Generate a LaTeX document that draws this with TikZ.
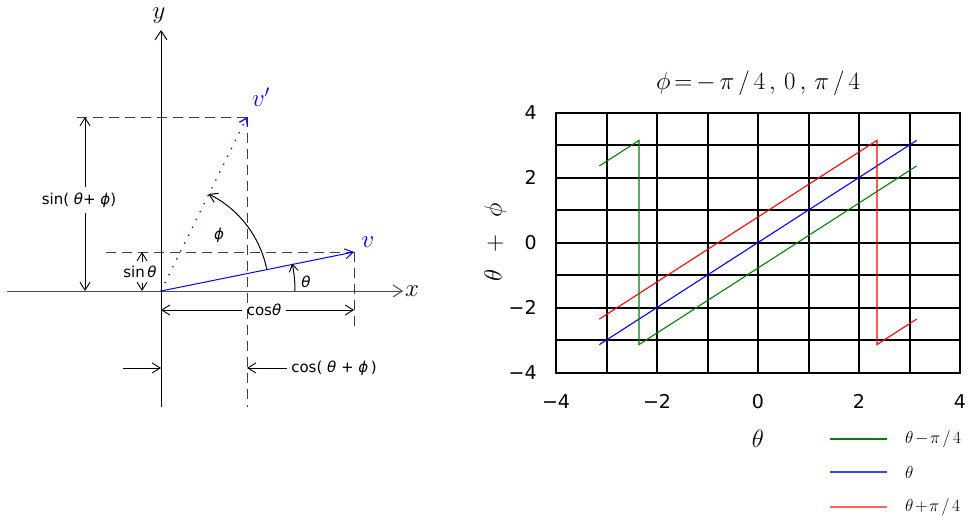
\documentclass[tikz,border=0pt]{standalone}
\usepackage{fontspec}
\setsansfont{DejaVu Sans}
\usetikzlibrary{arrows.meta}
\definecolor{pgreen}{RGB}{0,128,0}
\newcommand{\gth}{{\itshape θ}}
\newcommand{\gph}{{\itshape ϕ}}
\begin{document}
\begin{tikzpicture}[x=1pt,y=-1pt,
  axis/.style={line width=1pt, -{Straight Barb[length=9pt,width=12pt]}},
  dim/.style={line width=0.9pt, -{Straight Barb[length=8pt,width=10pt]}},
  guide/.style={dash pattern=on 10pt off 6pt, line width=1pt, black!75},
  lab/.style={font=\sffamily\fontsize{15}{17}\selectfont, inner sep=1pt},
  tick/.style={font=\sffamily\fontsize{19}{22}\selectfont, inner sep=0pt},
  gridline/.style={line width=2pt},
  leg/.style={font=\fontsize{16}{18}\selectfont, anchor=west, inner sep=0pt},
]
\useasboundingbox (0,0) rectangle (967,519);
% ---------------- left diagram ----------------
\coordinate (O) at (161,291);
\coordinate (V) at (354,252);
\coordinate (Vp) at (247,117);
\coordinate (xl) at (7,291);
\coordinate (xr) at (403,291);
\coordinate (yb) at (161,407);
\coordinate (yt) at (161,30);
\draw[axis, black!70] (xl) -- (xr);
\draw[axis] (yb) -- (yt);
\node[font=\fontsize{25}{27}\selectfont] (xlab) at (412,291) {$x$};
\node[font=\fontsize{23}{25}\selectfont] (ylab) at (159,16) {$y$};
% dashed guides
\coordinate (d1) at (77,117);
\coordinate (d2) at (106,252);
\coordinate (d3) at (247,407);
\coordinate (d4) at (354,327);
\draw[guide] (d1) -- (Vp);
\draw[guide] (d2) -- (V);
\draw[guide] (Vp) -- (d3);
\draw[guide] (V) -- (d4);
% vectors
\draw[blue, line width=1pt, -{Straight Barb[length=8pt,width=10pt]}] (O) -- (V);
\draw[blue, line width=1.3pt, dash pattern=on 1.3pt off 7.5pt, -{Straight Barb[length=7pt,width=9pt]}] (O) -- (Vp);
\node[blue, font=\fontsize{25}{27}\selectfont] (vlab) at (368,242) {$v$};
\node[blue, font=\fontsize{25}{27}\selectfont] (vplab) at (261,97) {$v'$};
% angle arcs
\draw[line width=1pt, -{Straight Barb[length=8pt,width=10pt]}]
  ([shift={(11.4:108pt)}]O) arc[start angle=11.4, end angle=64, radius=108pt];
\draw[line width=1pt, -{Straight Barb[length=7pt,width=9pt]}]
  ([shift={(0:134pt)}]O) arc[start angle=0, end angle=11.8, radius=134pt];
\node[lab] (philab) at (219,235) {\gph};
\node[lab] (thlab) at (306,282) {\gth};
% sin(theta+phi)
\coordinate (s1t) at (85,117);
\coordinate (s1b) at (85,291);
\node[lab, inner sep=5pt] (s1) at (79,200) {sin( \gth+ \gph)};
\draw[dim] (s1.north -| s1t) -- (s1t);
\draw[dim] (s1.south -| s1b) -- (s1b);
% sin theta
\node[lab] (s2) at (140,272) {sin\,\gth};
\coordinate (s2t) at (142,252);
\coordinate (s2a) at (142,262);
\coordinate (s2c) at (142,283);
\coordinate (s2b) at (142,291);
\draw[dim] (s2a) -- (s2t);
\draw[dim] (s2c) -- (s2b);
% cos theta
\node[lab, inner sep=5pt] (c1) at (264,310) {cos\gth};
\coordinate (c1l) at (161,310);
\coordinate (c1r) at (354,310);
\draw[dim] (c1.west) -- (c1l);
\draw[dim] (c1.east) -- (c1r);
% cos(theta+phi)
\node[lab, inner sep=4pt] (c2) at (334,368) {cos( \gth\ + \gph\,)};
\coordinate (c2a) at (123,368);
\coordinate (c2b) at (161,368);
\coordinate (c2d) at (247,368);
\draw[dim] (c2a) -- (c2b);
\draw[dim] (c2.west) -- (c2d);
% ---------------- right plot ----------------
\begin{scope}[shift={(758,242.5)}, x=50.5pt, y=32.5pt]
  \foreach \i in {-3,...,3} {
    \draw[gridline] (\i,-4) -- (\i,4);
    \draw[gridline] (-4,\i) -- (4,\i);
  }
  \draw[gridline] (-4,-4) rectangle (4,4);
  \draw[blue, line width=1.1pt] ({-pi},{-pi}) -- ({pi},{pi});
  \draw[red, line width=1.1pt] ({-pi},{-3*pi/4}) -- ({3*pi/4},{pi}) -- ({3*pi/4},{-pi}) -- ({pi},{-3*pi/4});
  \draw[pgreen, line width=1.1pt] ({-pi},{3*pi/4}) -- ({-3*pi/4},{pi}) -- ({-3*pi/4},{-pi}) -- ({pi},{3*pi/4});
  \foreach \v/\t in {-4/−4,-2/−2,0/0,2/2,4/4} {
    \node[tick, anchor=east] (ty\v) at (-4.38,\v) {\t};
    \node[tick] (tx\v) at (\v,-4.88) {\t};
  }
  \node[font=\fontsize{23}{26}\selectfont] (title) at (0,4.9)
    {$\phi\kern4pt{=}\kern4pt{-}\kern4pt\pi\kern4pt/\kern4pt4\kern4pt,\kern4pt0\kern4pt,\kern4pt\pi\kern4pt/\kern4pt4$};
  \node[font=\fontsize{25}{27}\selectfont, rotate=90] (ylabel) at (-5.2,0) {$\theta\ \,+\ \,\phi$};
  \node[font=\fontsize{28}{30}\selectfont] (xlabel) at (0,-6.05) {$\theta$};
\end{scope}
% legend
\coordinate (l1a) at (830,439); \coordinate (l1b) at (887,439);
\coordinate (l2a) at (830,472); \coordinate (l2b) at (887,472);
\coordinate (l3a) at (830,507); \coordinate (l3b) at (887,507);
\draw[pgreen, line width=1.1pt] (l1a) -- (l1b);
\draw[blue!75, line width=1.1pt] (l2a) -- (l2b);
\draw[red!60, line width=1.1pt] (l3a) -- (l3b);
\node[leg] (g1) at (905,439) {$\theta\kern1.5pt{-}\kern1.5pt\pi\kern2.5pt/\kern2.5pt4$};
\node[leg] (g2) at (905,472) {$\theta$};
\node[leg] (g3) at (905,507) {$\theta\kern1.5pt{+}\kern1.5pt\pi\kern2.5pt/\kern2.5pt4$};
\end{tikzpicture}
\end{document}
